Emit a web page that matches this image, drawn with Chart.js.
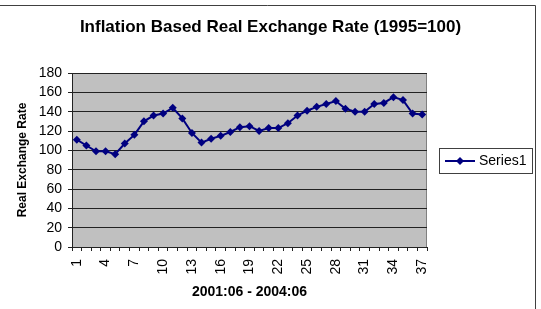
<!DOCTYPE html>
<html>
<head>
<meta charset="utf-8">
<title>Inflation Based Real Exchange Rate</title>
<script src="https://cdn.jsdelivr.net/npm/chart.js@4/dist/chart.umd.min.js"></script>
<style>
  body { margin: 0; background: #fff; }
  canvas { display: block; }
</style>
</head>
<body>
<canvas id="rerChart" width="541" height="309"></canvas>
<script>
// months 1..37 = 2001:06 - 2004:06
const months = ["1","2","3","4","5","6","7","8","9","10","11","12","13","14","15","16","17","18","19",
  "20","21","22","23","24","25","26","27","28","29","30","31","32","33","34","35","36","37"];
const series1 = [111, 105, 99, 99, 96, 107, 116, 130, 136, 138, 144, 133, 118, 108, 112, 115, 119, 124, 125,
  120, 123, 123, 128, 136, 141, 145, 148, 151, 143, 140, 140, 148, 149, 155, 152, 138, 137];
const yTicks = [0, 20, 40, 60, 80, 100, 120, 140, 160, 180];

const FONT = "'Liberation Sans', Arial, sans-serif";

// gray plot background + frame, outer border, custom legend box
const excelLook = {
  id: "excelLook",
  beforeDraw(chart) {
    const ctx = chart.ctx, a = chart.chartArea;
    ctx.save();
    ctx.fillStyle = "#c0c0c0";
    ctx.fillRect(a.left, a.top, a.right - a.left, a.bottom - a.top);
    ctx.strokeStyle = "#808080";
    ctx.lineWidth = 1;
    ctx.strokeRect(a.left + 0.5, a.top + 0.5, a.right - a.left - 1, a.bottom - a.top);
    ctx.strokeStyle = "#404040";
    ctx.beginPath();
    ctx.moveTo(0, 5.5);
    ctx.lineTo(535.5, 5.5);
    ctx.lineTo(535.5, 309);
    ctx.stroke();
    ctx.restore();
  },
  afterDraw(chart) {
    const ctx = chart.ctx, a = chart.chartArea;
    const ds = chart.data.datasets[0];
    const bx = a.right + 12, by = 148;
    ctx.save();
    ctx.strokeStyle = "#404040";
    ctx.lineWidth = 1;
    ctx.strokeRect(bx + 0.5, by + 0.5, 93, 25);
    const cy = by + 13;
    ctx.strokeStyle = ds.borderColor;
    ctx.lineWidth = 2;
    ctx.beginPath();
    ctx.moveTo(bx + 6, cy);
    ctx.lineTo(bx + 36, cy);
    ctx.stroke();
    ctx.fillStyle = ds.pointBackgroundColor;
    ctx.beginPath();
    ctx.moveTo(bx + 21, cy - 4);
    ctx.lineTo(bx + 25, cy);
    ctx.lineTo(bx + 21, cy + 4);
    ctx.lineTo(bx + 17, cy);
    ctx.closePath();
    ctx.fill();
    ctx.fillStyle = "#000";
    ctx.font = "14px " + FONT;
    ctx.textBaseline = "middle";
    ctx.fillText(ds.label, bx + 40, cy);
    ctx.restore();
  }
};

new Chart(document.getElementById("rerChart"), {
  type: "line",
  data: {
    labels: months,
    datasets: [{
      label: "Series1",
      data: series1,
      borderColor: "#000080",
      borderWidth: 2,
      pointStyle: "rectRot",
      pointRadius: 4,
      pointBorderWidth: 0,
      pointBackgroundColor: "#000080",
      tension: 0
    }]
  },
  options: {
    responsive: false,
    animation: false,
    layout: { padding: { top: 5, right: 0, bottom: 0, left: 0 } },
    plugins: {
      legend: { display: false },
      tooltip: { enabled: false },
      title: {
        display: true,
        text: "Inflation Based Real Exchange Rate (1995=100)",
        color: "#000",
        font: { family: FONT, size: 17, weight: "bold" },
        padding: { top: 12, bottom: 35.6 }
      }
    },
    scales: {
      x: {
        offset: true,
        afterFit: s => { s.height = 62; },
        grid: { offset: true, drawOnChartArea: false, drawTicks: true, tickLength: 4, color: "#222" },
        border: { color: "#222" },
        ticks: {
          autoSkip: false,
          minRotation: 90,
          maxRotation: 90,
          padding: 8,
          color: "#000",
          font: { family: FONT, size: 14 },
          callback: function (val, idx) { return idx % 3 === 0 ? this.getLabelForValue(val) : ""; }
        },
        title: {
          display: true,
          text: "2001:06 - 2004:06",
          color: "#000",
          font: { family: FONT, size: 14, weight: "bold" },
          padding: { top: 0, bottom: 8.6 }
        }
      },
      y: {
        min: yTicks[0],
        max: yTicks[yTicks.length - 1],
        afterFit: s => { s.width = 72; },
        afterBuildTicks: s => { s.ticks = yTicks.map(v => ({ value: v })); },
        grid: { color: "#222", tickLength: 4 },
        border: { color: "#222" },
        ticks: { autoSkip: false, padding: 6, color: "#000", font: { family: FONT, size: 14 } },
        title: {
          display: true,
          text: "Real Exchange Rate",
          color: "#000",
          font: { family: FONT, size: 12, weight: "bold" },
          padding: { top: 15, bottom: 0 }
        }
      },
      // empty right-hand axis, only keeps room for the legend
      spacer: {
        position: "right",
        afterFit: s => { s.width = 114; },
        grid: { display: false },
        border: { display: false },
        ticks: { display: false }
      }
    }
  },
  plugins: [excelLook]
});
</script>
</body>
</html>
